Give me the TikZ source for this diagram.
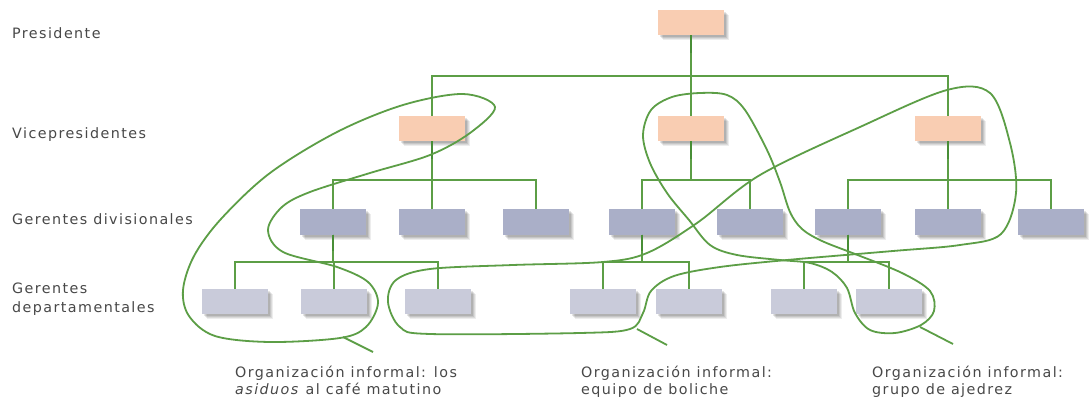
\documentclass[tikz,border=0pt]{standalone}
\usepackage{fontspec}
\setmainfont{DejaVu Sans}[LetterSpace=10]
\usetikzlibrary{shadows,arrows.meta}

\definecolor{linegreen}{RGB}{92,158,70}
\definecolor{stemgreen}{RGB}{72,142,54}
\definecolor{peach}{RGB}{249,205,178}
\definecolor{slate}{RGB}{170,175,200}
\definecolor{mist}{RGB}{201,203,218}
\definecolor{labelgray}{RGB}{72,72,72}

\tikzset{
  softshadow/.style={
    general shadow={fill=black, opacity=.07, shadow xshift=5pt, shadow yshift=-5pt},
    general shadow={fill=black, opacity=.08, shadow xshift=4pt, shadow yshift=-4pt},
    general shadow={fill=black, opacity=.09, shadow xshift=3pt, shadow yshift=-3pt},
    general shadow={fill=black, opacity=.10, shadow xshift=2pt, shadow yshift=-2pt}},
  box/.style={minimum width=66pt, minimum height=25pt, inner sep=0pt, draw=none, softshadow},
  topbox/.style={box, fill=peach},
  divbox/.style={box, fill=slate},
  depbox/.style={box, fill=mist},
  wire/.style={draw=linegreen, line width=1.8pt},
  stem/.style={draw=stemgreen, line width=2.8pt},
  lasso/.style={draw=linegreen, line width=1.8pt},
  lvl/.style={anchor=base west, text=labelgray, inner sep=0pt, font=\fontsize{14.3}{17}\selectfont},
}

\begin{document}
\begin{tikzpicture}[x=1pt, y=-1pt]
  \useasboundingbox[fill=white] (0,0) rectangle (1092,398);

  % level captions
  \node[lvl] (cPres) at (12,39) {Presidente};
  \node[lvl] (cVice) at (12,139) {Vicepresidentes};
  \node[lvl] (cDiv)  at (12,225) {Gerentes divisionales};
  \node[lvl] (cDep1) at (12,293) {Gerentes};
  \node[lvl] (cDep2) at (12,312) {departamentales};

  % president and vice presidents
  \node[topbox] (pres) at (691,22.5) {};
  \node[topbox] (vpL) at (432,128.5) {};
  \node[topbox] (vpM) at (691,128.5) {};
  \node[topbox] (vpR) at (948,128.5) {};

  % division managers
  \node[divbox] (d1) at (333,222) {};
  \node[divbox] (d2) at (432,222) {};
  \node[divbox] (d3) at (536,222) {};
  \node[divbox] (d4) at (642,222) {};
  \node[divbox] (d5) at (750,222) {};
  \node[divbox] (d6) at (848,222) {};
  \node[divbox] (d7) at (948,222) {};
  \node[divbox] (d8) at (1051,222) {};

  % department managers
  \node[depbox] (p1) at (235,301.5) {};
  \node[depbox] (p2) at (334,301.5) {};
  \node[depbox] (p3) at (438,301.5) {};
  \node[depbox] (p4) at (603,301.5) {};
  \node[depbox] (p5) at (689,301.5) {};
  \node[depbox] (p6) at (804,301.5) {};
  \node[depbox] (p7) at (889,301.5) {};

  % reporting lines
  \foreach \c in {vpL,vpM,vpR}
    \draw[wire] (pres.south) -- ++(0,41) -| (\c.north);
  \foreach \c in {d1,d2,d3}
    \draw[wire] (vpL.south) -- ++(0,39) -| (\c.north);
  \foreach \c in {d4,d5}
    \draw[wire] (vpM.south) -- ++(0,39) -| (\c.north);
  \foreach \c in {d6,d7,d8}
    \draw[wire] (vpR.south) -- ++(0,39) -| (\c.north);
  \foreach \c in {p1,p2,p3}
    \draw[wire] (d1.south) -- ++(0,27) -| (\c.north);
  \foreach \c in {p4,p5}
    \draw[wire] (d4.south) -- ++(0,27) -| (\c.north);
  \foreach \c in {p6,p7}
    \draw[wire] (d6.south) -- ++(0,27) -| (\c.north);

  % heavier stems under each manager
  \foreach \b in {pres,vpL,vpM,vpR}
    \draw[stem] (\b.south) -- ++(0,18);
  \foreach \b in {d1,d4,d6}
    \draw[stem] (\b.south) -- ++(0,16);

  % informal group: morning coffee
  \draw[lasso] plot[smooth cycle, tension=0.55] coordinates {
    (495,107) (470,133) (430,155) (370,173) (310,192) (282,207) (268,230)
    (283,252) (337,267) (368,282) (378,303) (366,327) (340,338) (270,342)
    (215,336) (189,316) (183,290) (194,256) (221,219) (270,173) (337,132)
    (403,105) (463,94)};
  % informal group: bowling team
  \draw[lasso] plot[smooth cycle, tension=0.55] coordinates {
    (430,269) (513,265) (603,262) (647,253) (697,223) (760,175) (860,127)
    (947,90) (990,93) (1010,143) (1016,193) (1001,234) (960,245) (893,251)
    (787,260) (720,267) (674,276) (651,291) (643,313) (630,329) (580,333)
    (430,334) (400,327) (388,302) (396,280)};
  % informal group: chess club
  \draw[lasso] plot[smooth cycle, tension=0.55] coordinates {
    (700,93) (727,95) (745,110) (767,150) (780,182) (790,212) (802,229)
    (822,241) (855,254) (902,273) (930,291) (934,311) (921,325) (895,333)
    (870,330) (855,313) (847,288) (832,272) (810,263) (780,260) (737,255)
    (710,245) (689,220) (667,193) (650,163) (643,135) (651,110) (672,97)};

  % pointers to the captions
  \coordinate (aTail) at (343,337);  \coordinate (aTip) at (373,352);
  \coordinate (bTail) at (637,329);  \coordinate (bTip) at (667,345);
  \coordinate (cTail) at (920,327);  \coordinate (cTip) at (953,344);
  \draw[wire] (aTail) -- (aTip);
  \draw[wire] (bTail) -- (bTip);
  \draw[wire] (cTail) -- (cTip);

  % captions of the informal groups
  \node[lvl] (gA1) at (235,377) {Organización informal: los};
  \node[lvl] (gA2) at (235,394) {\textit{asiduos} al café matutino};
  \node[lvl] (gB1) at (581,377) {Organización informal:};
  \node[lvl] (gB2) at (581,394) {equipo de boliche};
  \node[lvl] (gC1) at (872,377) {Organización informal:};
  \node[lvl] (gC2) at (872,394) {grupo de ajedrez};
\end{tikzpicture}
\end{document}
